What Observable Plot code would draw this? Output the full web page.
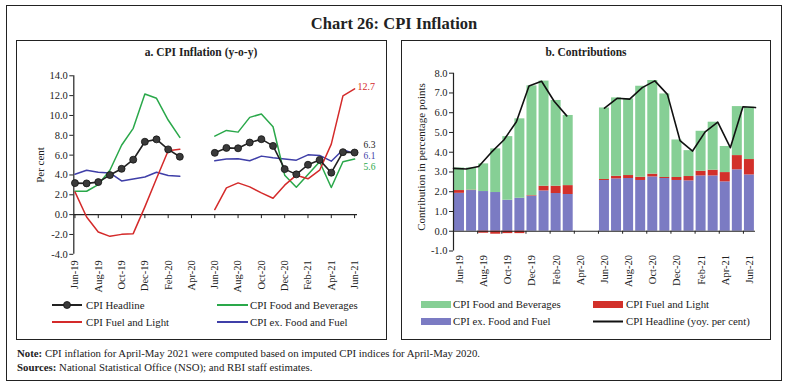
<!DOCTYPE html>
<html><head><meta charset="utf-8">
<script src="https://cdn.jsdelivr.net/npm/d3@7"></script>
<script src="https://cdn.jsdelivr.net/npm/@observablehq/plot@0.6"></script>
<style>
html,body{margin:0;padding:0;background:#fff;}
#wrap{position:relative;width:788px;height:388px;overflow:hidden;font-family:"Liberation Serif",serif;color:#222;}
.box{position:absolute;border:1.5px solid #222;box-sizing:border-box;}
.t{position:absolute;white-space:nowrap;line-height:1;}
.plot{position:absolute;}
</style></head><body><div id="wrap">
<div class="box" style="left:6px;top:5px;width:776px;height:376px;"></div>
<div class="box" style="left:16px;top:40px;width:371px;height:300px;"></div>
<div class="box" style="left:401px;top:40px;width:370px;height:300px;"></div>
</div>
<script>
// ---------- data ----------
const months = ["Jun-19","Jul-19","Aug-19","Sep-19","Oct-19","Nov-19","Dec-19","Jan-20","Feb-20","Mar-20","Apr-20","May-20","Jun-20","Jul-20","Aug-20","Sep-20","Oct-20","Nov-20","Dec-20","Jan-21","Feb-21","Mar-21","Apr-21","May-21","Jun-21"];
// a. CPI inflation (y-o-y, per cent)
const headline = [3.18,3.15,3.28,3.99,4.62,5.54,7.35,7.59,6.58,5.84,null,null,6.23,6.73,6.69,7.27,7.61,6.93,4.59,4.06,5.03,5.52,4.23,6.30,6.26];
const foodBev  = [2.36,2.36,3.03,4.48,7.00,8.70,12.17,11.73,9.54,7.79,null,null,7.92,8.49,8.32,9.81,10.15,8.86,3.98,2.76,4.04,5.33,2.73,5.33,5.60];
const fuelLight= [2.29,-0.24,-1.75,-2.19,-1.99,-1.92,0.78,3.64,6.44,6.60,null,null,0.51,2.70,3.20,2.80,2.19,1.65,2.97,3.98,3.61,4.48,7.11,11.97,12.68];
const coreExFF = [4.08,4.48,4.28,4.21,3.40,3.60,3.80,4.28,3.94,3.88,null,null,5.43,5.60,5.63,5.43,5.90,5.73,5.60,5.49,6.03,5.97,5.39,6.54,6.14];
// b. Contributions (percentage points)
const contCore = [1.92,2.06,2.01,1.96,1.57,1.67,1.77,2.04,1.91,1.86,null,null,2.57,2.65,2.67,2.57,2.75,2.67,2.57,2.55,2.80,2.80,2.50,3.11,2.85];
const contFuel = [0.14,0.02,-0.10,-0.15,-0.12,-0.12,0.03,0.24,0.37,0.45,null,null,0.05,0.13,0.15,0.16,0.14,0.05,0.15,0.22,0.24,0.29,0.47,0.72,0.78];
const contFood = [1.14,1.12,1.40,2.21,3.22,4.02,5.56,5.32,4.34,3.55,null,null,3.62,3.97,3.88,4.61,4.74,4.23,1.90,1.31,2.02,2.43,1.32,2.48,2.65];
const yTicksL = [-4,-2,0,2,4,6,8,10,12,14];
const yTicksR = [-1,0,1,2,3,4,5,6,7,8];
const seriesNames = ["CPI Headline","CPI Food and Beverages","CPI Fuel and Light","CPI ex. Food and Fuel"];

// ---------- style ----------
const C = {black:"#222", green:"#2aa84a", red:"#d42a2a", blue:"#3f3fa8",
           barGreen:"#86cf95", barRed:"#d2302a", barPurple:"#7b7bc3"};
const FONT = "Liberation Serif, serif";
const fmt1 = d => d3.format(".1f")(d).replace("\u2212", "-");
const wrap = document.getElementById("wrap");
function txt(s, x, y, o = {}) {
  const d = document.createElement("div");
  d.className = "t";
  d.innerHTML = s;
  d.style.fontSize = (o.size || 10.5) + "px";
  if (o.bold) d.style.fontWeight = "bold";
  if (o.color) d.style.color = o.color;
  d.style.left = x + "px";
  d.style.top = y + "px";
  let tr = o.center ? "translate(-50%,-50%)" : "translate(0,-50%)";
  if (o.rot) tr += " rotate(-90deg)";
  d.style.transform = tr;
  wrap.appendChild(d);
}

const idx = months.map((m, i) => i);
const evenIdx = idx.filter(i => i % 2 === 0);
const rowsL = idx.map(i => ({i, headline: headline[i], food: foodBev[i], fuel: fuelLight[i], core: coreExFF[i]}));
const last = months.length - 1;

// ---------- chart a ----------
const xDomL = [-0.1, 24.25];
const left = Plot.plot({
  width: 369, height: 240,
  marginLeft: 56.3, marginRight: 29, marginTop: 15.3, marginBottom: 46.2,
  style: {fontFamily: FONT, fontSize: "10.5px", color: "#222", background: "transparent", overflow: "visible"},
  x: {domain: xDomL},
  y: {domain: [-4, 14]},
  marks: [
    Plot.axisY({ticks: yTicksL, tickFormat: fmt1, tickSize: 4, tickPadding: 2, label: null}),
    Plot.axisX({ticks: evenIdx, tickFormat: i => months[i], tickRotate: -90, tickSize: 0, tickPadding: 6, label: null}),
    Plot.ruleX([xDomL[0]], {y1: -4, y2: 14, stroke: C.black, strokeWidth: 1.2}),
    Plot.ruleY([0], {stroke: C.black, strokeWidth: 1.2}),
    Plot.ruleX(evenIdx, {y1: 0, y2: 0, insetBottom: -4, stroke: C.black}),
    Plot.line(rowsL, {x: "i", y: "core", stroke: C.blue, strokeWidth: 1.5}),
    Plot.line(rowsL, {x: "i", y: "food", stroke: C.green, strokeWidth: 1.5}),
    Plot.line(rowsL, {x: "i", y: "fuel", stroke: C.red, strokeWidth: 1.5}),
    Plot.line(rowsL, {x: "i", y: "headline", stroke: C.black, strokeWidth: 1.6}),
    Plot.dot(rowsL.filter(d => d.headline != null), {x: "i", y: "headline", r: 3.5, fill: "#3a3a3a", stroke: "#111", strokeWidth: 0.8}),
    Plot.text([fuelLight[last]], {x: last, y: d => d, text: fmt1, dx: 3, dy: -2, textAnchor: "start", fill: C.red, fontSize: 10}),
    Plot.text([headline[last]], {x: last, y: d => d, text: fmt1, dx: 9, dy: -8, textAnchor: "start", fill: C.black, fontSize: 9.5}),
    Plot.text([coreExFF[last]], {x: last, y: d => d, text: fmt1, dx: 9, dy: 2.5, textAnchor: "start", fill: C.blue, fontSize: 9.5}),
    Plot.text([foodBev[last]], {x: last, y: d => d, text: fmt1, dx: 9, dy: 8, textAnchor: "start", fill: C.green, fontSize: 9.5})
  ]
});
left.classList.add("plot");
left.style.left = "17px"; left.style.top = "60px";
wrap.appendChild(left);

// ---------- chart b ----------
const rowsR = [];
idx.forEach(i => {
  if (contCore[i] == null) return;
  rowsR.push({i, s: "core", v: contCore[i]}, {i, s: "fuel", v: contFuel[i]}, {i, s: "food", v: contFood[i]});
});
const lineR = idx.map(i => ({pos: i * months.length / last, v: headline[i]}));
const right = Plot.plot({
  width: 368, height: 240,
  marginLeft: 51, marginRight: 15, marginTop: 12.7, marginBottom: 49.5,
  style: {fontFamily: FONT, fontSize: "10.5px", color: "#222", background: "transparent", overflow: "visible"},
  x: {domain: [0, months.length]},
  y: {domain: [-1, 8]},
  color: {domain: ["core", "fuel", "food"], range: [C.barPurple, C.barRed, C.barGreen]},
  marks: [
    Plot.rectY(rowsR, {x: "i", interval: 1, y: "v", fill: "s", insetLeft: 1, insetRight: 1.1}),
    Plot.axisY({ticks: yTicksR, tickFormat: fmt1, tickSize: 4, tickPadding: 2, label: null}),
    Plot.axisX({ticks: evenIdx.map(i => i + 0.5), tickFormat: d => months[d - 0.5], tickRotate: -90, tickSize: 0, tickPadding: 4, label: null}),
    Plot.ruleX([0], {y1: -1, y2: 8, stroke: C.black, strokeWidth: 1.2}),
    Plot.ruleY([0], {stroke: C.black, strokeWidth: 1.2}),
    Plot.ruleX(evenIdx, {y1: 0, y2: 0, insetBottom: -3, stroke: C.black}),
    Plot.line(lineR, {x: "pos", y: "v", stroke: "#111", strokeWidth: 1.6})
  ]
});
right.classList.add("plot");
right.style.left = "402px"; right.style.top = "60px";
wrap.appendChild(right);

// ---------- texts ----------
txt("Chart 26: CPI Inflation", 394, 24, {size: 16.5, bold: true, center: true});
txt("a. CPI Inflation (y-o-y)", 201, 53, {size: 11.5, bold: true, center: true});
txt("b. Contributions", 586, 53, {size: 11.5, bold: true, center: true});
txt("Per cent", 40, 165, {size: 11, center: true, rot: true});
txt("Contribution in percentage points", 421, 157, {size: 11, center: true, rot: true});
txt("<b>Note:</b> CPI inflation for April-May 2021 were computed based on imputed CPI indices for April-May 2020.", 17, 353, {size: 10.8});
txt("<b>Sources:</b> National Statistical Office (NSO); and RBI staff estimates.", 17, 367, {size: 10.8});

// legends
const ns = "http://www.w3.org/2000/svg";
const lg = document.createElementNS(ns, "svg");
lg.setAttribute("width", 788); lg.setAttribute("height", 388);
lg.style.position = "absolute"; lg.style.left = "0"; lg.style.top = "0"; lg.style.pointerEvents = "none";
function el(tag, attrs) { const e = document.createElementNS(ns, tag); for (const k in attrs) e.setAttribute(k, attrs[k]); lg.appendChild(e); }
el("line", {x1: 52, x2: 82, y1: 305, y2: 305, stroke: C.black, "stroke-width": 2});
el("circle", {cx: 67, cy: 305, r: 3.5, fill: "#3a3a3a", stroke: "#111", "stroke-width": 0.8});
el("line", {x1: 217, x2: 248, y1: 305, y2: 305, stroke: C.green, "stroke-width": 2});
el("line", {x1: 52, x2: 82, y1: 322, y2: 322, stroke: C.red, "stroke-width": 2});
el("line", {x1: 217, x2: 248, y1: 322, y2: 322, stroke: C.blue, "stroke-width": 2});
el("rect", {x: 421, y: 301, width: 30, height: 7, fill: C.barGreen});
el("rect", {x: 593, y: 301, width: 30, height: 7, fill: C.barRed});
el("rect", {x: 421, y: 318, width: 30, height: 7, fill: C.barPurple});
el("line", {x1: 593, x2: 623, y1: 321.5, y2: 321.5, stroke: "#111", "stroke-width": 2});
wrap.appendChild(lg);
txt(seriesNames[0], 86, 305, {size: 10.8});
txt(seriesNames[1], 250, 305, {size: 10.8});
txt(seriesNames[2], 86, 322, {size: 10.8});
txt(seriesNames[3], 250, 322, {size: 10.8});
txt(seriesNames[1], 453, 304, {size: 10.8});
txt(seriesNames[2], 626, 304, {size: 10.8});
txt(seriesNames[3], 453, 321, {size: 10.8});
txt("CPI Headline (yoy. per cent)", 626, 321, {size: 10.8});
</script>
</body></html>
